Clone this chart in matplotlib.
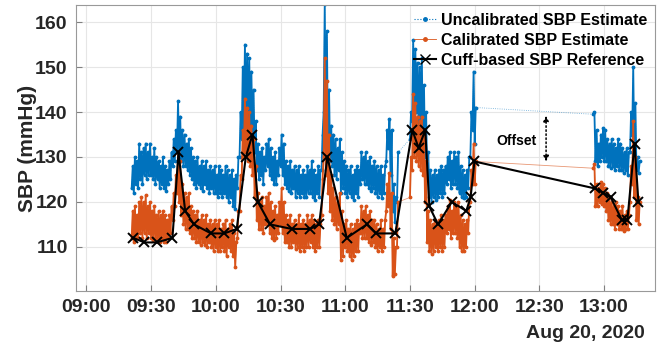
import numpy as np
import matplotlib
matplotlib.use("Agg")
import matplotlib.pyplot as plt
import matplotlib.dates as mdates
from matplotlib.lines import Line2D

plt.rcParams['font.family'] = ['Liberation Sans', 'DejaVu Sans']
plt.rcParams['font.weight'] = 'bold'

# sample minutes after 09:00 (one low and one high reading per minute)
minutes = list(range(21, 145)) + list(range(150, 181)) + list(range(235, 257))

uncal_hi = [128, 130, 129, 133, 131, 132, 133, 131, 133, 130,
            132, 130, 129, 128, 130, 128, 127, 129, 131, 134,
            136, 142.5, 139, 136, 135, 133, 134, 132, 130, 129,
            130, 128, 129, 128, 129, 127, 128, 127, 128, 126,
            128, 127, 126, 128, 127, 126, 127, 125, 126, 130,
            140, 150, 155, 153, 152, 149, 145, 138, 133, 131,
            132, 130, 133, 134, 132, 130, 131, 129, 132, 135,
            133, 129, 128, 129, 127, 128, 127, 128, 126, 127,
            126, 128, 127, 129, 127, 126, 128, 127, 135, 164,
            158, 145, 137, 135, 134, 132, 134, 131, 129, 128,
            127, 128, 126, 127, 128, 127, 131, 130, 131, 129,
            130, 128, 129, 128, 127, 128, 126, 128, 136, 138.5,
            136, 124, 121, 131,
            140, 156, 154, 151, 150, 152, 146, 140, 131, 127, 126,
            127, 126, 127, 128, 127, 128, 130, 131, 129, 131,
            130, 131, 128, 127, 126, 127, 130, 140, 149, 141,
            140, 136, 133, 135, 136.5, 136, 134, 133, 134, 133, 132,
            134, 133, 132, 131, 132, 131, 140, 150, 142, 130, 129]
uncal_lo = [123, 122, 124, 123, 125, 124, 126, 125, 126, 126,
            125, 124, 125, 123, 124, 123, 122.5, 124, 125, 128,
            129, 131, 130, 129, 128, 128, 127, 126, 125, 124,
            123, 124, 123, 122.5, 124, 123, 122, 123, 122, 122,
            121, 122, 121, 122, 121, 120, 121, 119, 118.5, 123,
            130, 134, 136, 135, 138, 136, 133, 131, 127, 125,
            126, 124, 127, 128, 126, 125, 124, 124, 126, 128,
            126, 124, 123, 122.5, 122, 123, 121, 122, 121, 122,
            121, 121, 122, 122, 121, 120.5, 122, 121, 127, 140,
            136, 131, 129, 128, 126, 125, 127, 122, 123, 122,
            121, 122, 121, 120.5, 122, 121, 124, 125, 124, 124,
            123, 122.5, 123, 122, 121, 122, 120.8, 122, 129, 132,
            126, 118, 115.5, 120,
            134, 138, 139, 140, 136, 137, 134, 130, 125, 121, 120,
            121, 120.5, 121, 122, 121, 122, 124, 125, 123, 124,
            124, 123, 122, 121, 120.8, 121, 123, 130, 136, 133,
            139.5, 129, 128, 129, 130, 129, 129, 128, 127.5, 128, 127,
            128, 127, 127, 126.5, 127, 126, 131, 135, 130, 127, 126.5]

cal_hi = [118, 119, 117, 120, 121, 120, 121.5, 119, 120, 118,
          119, 117, 118, 117, 118, 117, 116, 117, 119, 122,
          126, 131, 129, 124, 122, 121, 122, 119, 118, 117,
          118, 116, 117, 116, 117, 115, 116, 115, 116, 115,
          116, 114, 115, 116, 114, 115, 116, 113, 111, 118,
          126, 136, 143, 141, 140, 137, 134, 128, 122, 120,
          121, 119, 121, 122, 120, 118, 119, 117, 120, 123,
          120, 117, 116, 117, 115, 116, 115, 117, 115, 116,
          115, 117, 116, 117, 116, 115, 116, 115, 125, 152,
          147, 135, 126, 123, 121, 120, 122, 118, 115, 116,
          114, 115, 114, 115, 116, 115, 119, 118, 119, 117,
          118, 116, 116, 115, 114, 116, 114, 116, 124, 126.5,
          122, 112, 110, 120,
          130, 144, 142, 139, 138, 139, 135, 129, 118, 116, 115,
          116, 115, 116, 117, 116, 117, 119, 120.5, 118, 120,
          119, 120, 117, 116, 115, 116, 120, 127, 133, 129,
          128.5, 124, 123, 124.5, 124, 123, 122, 121, 120, 119, 120,
          119, 118, 119, 117, 118, 117, 128, 138, 130, 121, 120]
cal_lo = [112, 111, 112, 112, 113, 112, 113, 112, 113, 112,
          111.5, 112, 111, 111, 112, 111, 111, 112, 113, 116,
          119, 122, 120, 117, 115, 114, 114, 113, 112, 112,
          111, 111, 110.5, 111, 110.5, 110, 111, 110, 109, 110,
          109, 109, 110, 109, 108, 110, 109, 108, 105.5, 112,
          118, 125, 130, 131, 129, 128, 126, 121, 116, 114,
          114, 113, 115, 115, 113, 112, 111.5, 112, 113, 115,
          113, 111, 111, 110, 110, 111, 109.5, 110, 109, 110,
          109, 110, 110, 111, 110, 109, 110, 110, 117, 130,
          126, 122, 118, 116, 115, 114, 115, 107, 108, 110,
          109, 108, 107, 108, 109, 109, 113, 112, 112, 112,
          111, 110.5, 111, 110, 109, 110, 109, 110, 118, 119,
          114, 103.5, 104, 110,
          121, 127, 130, 129, 128, 127, 126, 120, 111, 109, 108.5,
          109, 110, 109, 110, 109, 110, 113, 114, 112, 113,
          113, 112, 110, 109, 109, 110, 113, 120, 124, 124,
          127.5, 119, 119, 120, 119.5, 119, 118, 116, 115, 115, 114,
          115, 114, 114, 113.5, 114, 114, 120, 124, 121, 116, 115]

cuff_min = [21.8, 26.9, 32.6, 39.9, 42.7, 45.8, 49.9, 57.8, 63.9, 69.7,
            73.9, 77.0, 79.5, 85.2, 95.2, 103.7, 107.9, 111.7, 120.7, 130.0,
            134.2, 143.2, 151.1, 154.0, 157.1, 159.0, 163.0, 169.4, 176.1, 178.1,
            179.9, 235.8, 239.7, 243.1, 248.2, 250.8, 254.1, 255.9]
cuff_sbp = [112, 111, 111, 112, 131, 118, 115, 113, 113, 114,
            130, 135, 120, 115, 114, 114, 115, 130, 112, 115,
            113, 113, 136, 132, 136, 119, 115, 120, 118, 121,
            129, 123, 122, 121, 116, 116, 133, 120]

labels = ['Uncalibrated SBP Estimate', 'Calibrated SBP Estimate',
          'Cuff-based SBP Reference']

base = np.datetime64('2020-08-20T09:00')


def to_time(m):
    return base + np.round(np.asarray(m, dtype=float) * 60).astype('timedelta64[s]')


blue = '#0072BD'
orange = '#D95319'

fig = plt.figure(figsize=(6.65, 3.5), dpi=100)
ax = fig.add_axes([0.1143, 0.1686, 0.8707, 0.8171])

m = np.array(minutes, dtype=float)
t2 = np.column_stack([m, m + 0.5]).ravel()
for lo, hi, col, ls in [(uncal_lo, uncal_hi, blue, ':'),
                        (cal_lo, cal_hi, orange, '-')]:
    v2 = np.column_stack([lo, hi]).ravel()
    # thin line linking everything (visible across gaps)
    ax.plot(to_time(t2), v2, ls=ls, lw=0.6, color=col, alpha=0.6)
    cuts = np.where(np.diff(t2) > 1)[0] + 1
    for ts, vs in zip(np.split(t2, cuts), np.split(v2, cuts)):
        ax.plot(to_time(ts), vs, '.-', ms=3.5, lw=1.3, color=col)

ax.plot(to_time(cuff_min), cuff_sbp, '-x', color='black', lw=1.5, ms=7, mew=1.4)

# offset annotation
ax.annotate('', xy=(to_time(213.1), 139.8), xytext=(to_time(213.1), 128.4),
            arrowprops=dict(arrowstyle='<|-|>', linestyle=':', lw=1.1,
                            color='black', mutation_scale=8))
ax.text(to_time(199.3), 133.6, 'Offset', fontsize=10, fontweight='bold',
        ha='center', va='center')

ax.set_xlim(to_time(-4.8), to_time(263.6))
ax.set_ylim(100.2, 163.8)
ax.set_yticks([110, 120, 130, 140, 150, 160])
ax.xaxis.set_major_locator(mdates.MinuteLocator(byminute=[0, 30]))
ax.xaxis.set_major_formatter(mdates.DateFormatter('%H:%M'))
ax.grid(True, color='#e6e6e6', lw=0.8)
ax.set_axisbelow(True)
ax.tick_params(direction='in', length=4, color='#808080', labelsize=14,
               labelcolor='#262626', pad=6)
for lab in ax.get_xticklabels() + ax.get_yticklabels():
    lab.set_fontweight('bold')
for s in ax.spines.values():
    s.set_color('#999999')
    s.set_linewidth(0.8)

ax.set_ylabel('SBP (mmHg)', fontsize=15, fontweight='bold', color='#262626',
              labelpad=-1)
fig.text(0.97, 0.048, 'Aug 20, 2020', fontsize=14, fontweight='bold',
         color='#262626', ha='right', va='center')

handles = [Line2D([], [], color=blue, ls=':', lw=0.8, marker='.', ms=5),
           Line2D([], [], color=orange, ls='-', lw=0.6, marker='.', ms=5),
           Line2D([], [], color='black', ls='-', lw=1.5, marker='x', ms=7)]
ax.legend(handles, labels, loc='upper right', bbox_to_anchor=(1.0, 1.0),
          frameon=False, handlelength=1.4, handletextpad=0.3,
          labelspacing=0.3, borderaxespad=0.1,
          prop={'weight': 'bold', 'size': 11.5})

fig.savefig('out.png', dpi=100)
